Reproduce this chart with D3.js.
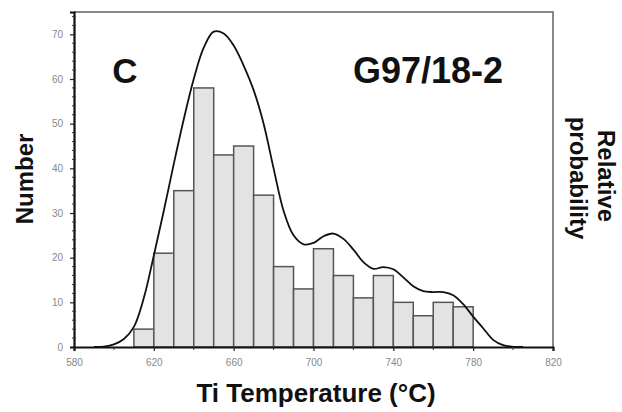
<!DOCTYPE html>
<html><head><meta charset="utf-8">
<script src="https://cdn.jsdelivr.net/npm/d3@7"></script>
<style>
html,body{margin:0;padding:0;background:#fff;}
svg{display:block;font-family:"Liberation Sans",Arial,Helvetica,sans-serif;}
</style></head>
<body>
<svg id="chart" width="622" height="412"></svg>
<script>
// Histogram bins (lower edge, °C) and counts
const binStarts = [610,620,630,640,650,660,670,680,690,700,710,720,730,740,750,760,770];
const binWidth = 10;
const counts = [4,21,35,58,43,45,34,18,13,22,16,11,16,10,7,10,9];

// Relative probability curve (in count units)
const curveT = [590,595,600,605,610,615,620,625,630,635,640,645,650,655,660,665,670,675,680,685,690,695,700,705,710,715,720,725,730,735,740,745,750,755,760,765,770,775,780,785,790,795,800,805];
const curveV = [0,0.1,0.6,1.8,4.5,11,20.5,30.5,41,51,60,67,70.6,70.2,67.5,63,57.5,50,40,30.5,25,23,23.3,24.8,25.4,24.2,21.8,19,17.5,17.9,17.4,15.6,13.6,12.5,12.3,12.3,11.6,9.6,6.8,4.2,1.6,0.4,0.05,0];

const xTicks = [580,620,660,700,740,780,820];
const yTicks = [0,10,20,30,40,50,60,70];

const svg = d3.select("#chart");
const L = 74, R = 553, T = 12, B = 347;
const x = d3.scaleLinear().domain([580,820]).range([L,R]);
const y = d3.scaleLinear().domain([0,75]).range([B,T]);

// frame (top/right)
svg.append("path")
  .attr("d", `M${L},${T}H${R}V${B}`)
  .attr("fill","none").attr("stroke","#888").attr("stroke-width",2);

// bars
svg.append("g").selectAll("rect").data(binStarts).join("rect")
  .attr("x", (d)=>x(d))
  .attr("y", (d,i)=>y(counts[i]))
  .attr("width", (d)=>x(d+binWidth)-x(d))
  .attr("height", (d,i)=>y(0)-y(counts[i]))
  .attr("fill","#e3e3e3").attr("stroke","#555").attr("stroke-width",1.5);

// curve
const line = d3.line().x((d,i)=>x(curveT[i])).y((d)=>y(d)).curve(d3.curveCatmullRom);
svg.append("path").datum(curveV).attr("d", line)
  .attr("fill","none").attr("stroke","#111").attr("stroke-width",1.8);

// axes
const xAxis = d3.axisBottom(x).tickValues(xTicks).tickSize(4).tickPadding(8).tickFormat(d3.format("d"));
const gx = svg.append("g").attr("transform",`translate(0,${B})`).call(xAxis);
const yAxis = d3.axisLeft(y).tickValues(yTicks).tickSize(4).tickPadding(7).tickFormat(d3.format("d"));
const gy = svg.append("g").attr("transform",`translate(${L},0)`).call(yAxis);
// minor ticks
const yMinor = d3.range(0,75,2).filter(v=>v%10!==0);
svg.append("g").selectAll("line").data(yMinor).join("line")
  .attr("x1",L-2).attr("x2",L+2).attr("y1",d=>y(d)).attr("y2",d=>y(d))
  .attr("stroke","#333").attr("stroke-width",1);
const xMinor = d3.range(600,820,40);
svg.append("g").selectAll("line").data(xMinor).join("line")
  .attr("x1",d=>x(d)).attr("x2",d=>x(d)).attr("y1",B).attr("y2",B+3)
  .attr("stroke","#333").attr("stroke-width",1);

[gx,gy].forEach(g=>{
  g.select(".domain").attr("stroke","#111").attr("stroke-width",2.2);
  g.selectAll(".tick line").attr("stroke","#222").attr("stroke-width",1.2);
  g.selectAll(".tick text").attr("fill","#888").attr("font-size",10)
    .attr("font-family","'Liberation Sans',Arial,sans-serif");
});

// labels
svg.append("text").attr("x",125).attr("y",83).attr("text-anchor","middle")
  .attr("font-size",35).attr("font-weight","bold").attr("fill","#111").text("C");
svg.append("text").attr("x",428).attr("y",83).attr("text-anchor","middle")
  .attr("font-size",36).attr("font-weight","bold").attr("fill","#111").text("G97/18-2");

svg.append("text").attr("x",316).attr("y",402).attr("text-anchor","middle")
  .attr("font-size",26).attr("font-weight","bold").attr("fill","#111")
  .text("Ti Temperature (°C)");

svg.append("text").attr("transform","translate(33,179) rotate(-90)").attr("text-anchor","middle")
  .attr("font-size",24).attr("font-weight","bold").attr("fill","#111").text("Number");

svg.append("text").attr("transform","translate(598,176) rotate(90)").attr("text-anchor","middle")
  .attr("font-size",24).attr("font-weight","bold").attr("fill","#111").text("Relative");
svg.append("text").attr("transform","translate(570,178) rotate(90)").attr("text-anchor","middle")
  .attr("font-size",24).attr("font-weight","bold").attr("fill","#111").text("probability");
</script>
</body></html>
